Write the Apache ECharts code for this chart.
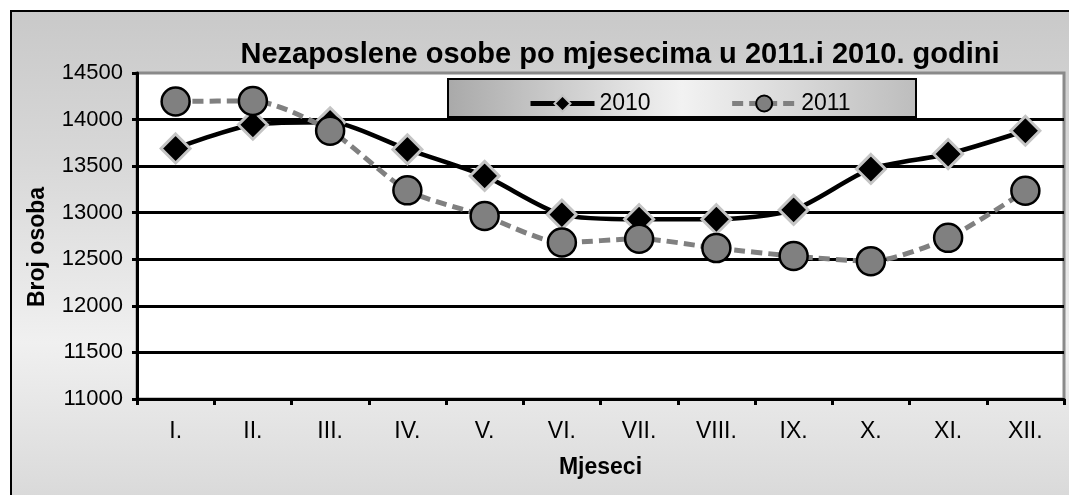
<!DOCTYPE html>
<html>
<head>
<meta charset="utf-8">
<script src="https://cdn.jsdelivr.net/npm/echarts@6/dist/echarts.min.js"></script>
<style>
  html, body { margin: 0; padding: 0; width: 1069px; height: 495px; overflow: hidden; background: #fff; }
  #frame { position: absolute; left: 10px; top: 10px; width: 1100px; height: 600px; border: 2px solid #000;
    background: linear-gradient(180deg, #c9c9c9 0%, #d8d8d8 25%, #f0f0f0 55%, #dcdcdc 78%, #c6c6c6 100%); }
  #chart { position: absolute; left: 0; top: 0; width: 1069px; height: 495px; }
</style>
</head>
<body>
<div id="frame"></div>
<div id="chart"></div>
<script>
const titleText = 'Nezaposlene osobe po mjesecima u 2011.i 2010. godini';
const categories = ['I.', 'II.', 'III.', 'IV.', 'V.', 'VI.', 'VII.', 'VIII.', 'IX.', 'X.', 'XI.', 'XII.'];
const seriesNames = ['2010', '2011'];
const values2010 = [13690, 13945, 13970, 13680, 13395, 12980, 12930, 12930, 13030, 13470, 13630, 13880];
const values2011 = [14195, 14200, 13880, 13240, 12965, 12680, 12720, 12620, 12535, 12480, 12730, 13235];
const yMin = 11000, yMax = 14500, yStep = 500;
const yAxisName = 'Broj osoba';
const xAxisName = 'Mjeseci';

const chart = echarts.init(document.getElementById('chart'), null, { renderer: 'canvas' });
const font = 'Liberation Sans, Arial, sans-serif';

chart.setOption({
  backgroundColor: 'transparent',
  animation: false,
  title: {
    text: titleText,
    left: 615, top: 35, textAlign: 'center',
    textStyle: { fontFamily: font, fontSize: 29, fontWeight: 'bold', color: '#000' }
  },
  graphic: [{
    type: 'rect', left: 447, top: 78, z: 0,
    shape: { width: 468, height: 38 },
    style: {
      fill: new echarts.graphic.LinearGradient(0, 0, 1, 0, [
        { offset: 0, color: '#a9a9a9' }, { offset: 0.5, color: '#f2f2f2' }, { offset: 1, color: '#bdbdbd' }
      ]),
      stroke: '#000', lineWidth: 2
    }
  }],
  legend: {
    data: seriesNames,
    left: 523, top: 87, z: 10,
    itemWidth: 64, itemHeight: 20, itemGap: 79,
    lineStyle: { width: 5 },
    textStyle: { fontFamily: font, fontSize: 23, color: '#000' }
  },
  grid: {
    left: 137, right: 5, top: 73, bottom: 96,
    show: true, backgroundColor: '#fff', borderColor: '#8a8a8a', borderWidth: 3
  },
  xAxis: {
    type: 'category', data: categories, boundaryGap: true,
    name: xAxisName, nameLocation: 'middle', nameGap: 57,
    nameTextStyle: { fontFamily: font, fontSize: 23, fontWeight: 'bold', color: '#000' },
    axisLine: { lineStyle: { color: '#000', width: 3 } },
    axisTick: { show: true, length: 6, lineStyle: { color: '#000', width: 3 } },
    axisLabel: { fontFamily: font, fontSize: 23, color: '#000', margin: 21 },
    splitLine: { show: false }
  },
  yAxis: {
    type: 'value', min: yMin, max: yMax, interval: yStep,
    name: yAxisName, nameLocation: 'middle', nameGap: 88, nameRotate: 90,
    nameTextStyle: { fontFamily: font, fontSize: 23, fontWeight: 'bold', color: '#000', padding: [0, 22, 0, 0] },
    axisLine: { show: true, lineStyle: { color: '#000', width: 3 } },
    axisTick: { show: true, length: 5, lineStyle: { color: '#000', width: 3 } },
    axisLabel: { fontFamily: font, fontSize: 22, color: '#000', margin: 14, formatter: v => String(v) },
    splitLine: { show: true, showMaxLine: false, lineStyle: { color: '#000', width: 3 } }
  },
  series: [
    {
      name: seriesNames[0], type: 'line', data: values2010, smooth: 0.25,
      symbol: 'diamond', symbolSize: 29, z: 3,
      lineStyle: { color: '#000', width: 4.5 },
      itemStyle: { color: '#000', borderColor: '#c4c4c4', borderWidth: 3 }
    },
    {
      name: seriesNames[1], type: 'line', data: values2011, smooth: 0.25,
      symbol: 'circle', symbolSize: 28, z: 4,
      lineStyle: { color: '#808080', width: 5, type: [11, 6] },
      itemStyle: { color: '#808080', borderColor: '#000', borderWidth: 2.5 }
    }
  ]
});
</script>
</body>
</html>
